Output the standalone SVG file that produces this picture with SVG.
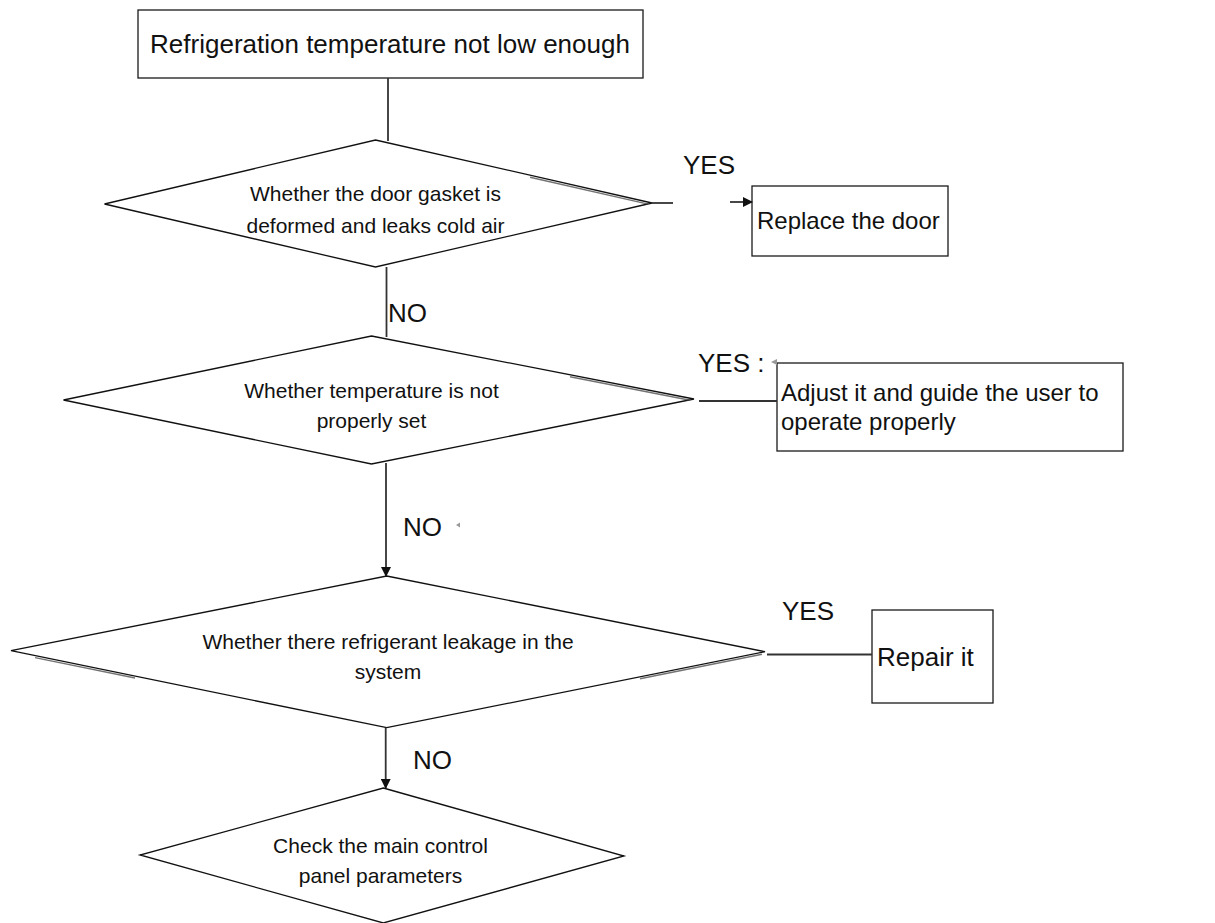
<svg xmlns="http://www.w3.org/2000/svg" width="1215" height="923" viewBox="0 0 1215 923">
  <style>
    .box { fill: #ffffff; stroke: #1a1a1a; stroke-width: 1.3; }
    .dia { fill: #ffffff; stroke: #111111; stroke-width: 1.3; stroke-linejoin: miter; }
    .shade { fill: none; stroke: #444444; stroke-width: 1.4; opacity: 0.75; }
    .conn { fill: none; stroke: #333333; stroke-width: 1.8; }
    .lbl { font-family: "Liberation Sans", Arial, sans-serif; font-size: 26px; fill: #111111; }
    .btxt { font-family: "Liberation Sans", Arial, sans-serif; font-size: 24px; fill: #111111; }
    .dtxt { font-family: "Liberation Sans", Arial, sans-serif; font-size: 21px; fill: #111111; text-anchor: middle; }
    .mark { fill: #999999; }
  </style>
  <defs>
    <marker id="arrow" viewBox="0 0 10 10" refX="9" refY="5" markerWidth="10" markerHeight="10" markerUnits="userSpaceOnUse" orient="auto">
      <path d="M0,0 L10,5 L0,10 Z" fill="#111111"/>
    </marker>
  </defs>

  <!-- start box -->
  <g id="start">
    <rect class="box" x="138" y="10" width="505" height="68"/>
    <text class="lbl" x="390" y="53" text-anchor="middle">Refrigeration temperature not low enough</text>
  </g>

  <!-- decision: door gasket -->
  <g id="check-gasket">
    <polygon class="dia" points="375.5,140 652,203 375.5,267 104.5,204"/>
    <line class="shade" x1="530" y1="177.2" x2="648" y2="204.1"/>
    <text class="dtxt" x="375.5" y="201">Whether the door gasket is</text>
    <text class="dtxt" x="375.5" y="233">deformed and leaks cold air</text>
  </g>

  <g id="replace-door">
    <rect class="box" x="752" y="186" width="196" height="70"/>
    <text class="btxt" x="757" y="229">Replace the door</text>
  </g>

  <!-- decision: temperature setting -->
  <g id="check-setting">
    <polygon class="dia" points="371.5,336 694,399 371.5,464 63.5,400"/>
    <line class="shade" x1="570" y1="376.7" x2="690" y2="400.2"/>
    <text class="dtxt" x="371.5" y="398">Whether temperature is not</text>
    <text class="dtxt" x="371.5" y="428">properly set</text>
  </g>

  <g id="adjust-setting">
    <rect class="box" x="777" y="363" width="346" height="88"/>
    <text class="btxt" x="781" y="401">Adjust it and guide the user to</text>
    <text class="btxt" x="781" y="430">operate properly</text>
  </g>

  <!-- decision: refrigerant leakage -->
  <g id="check-leak">
    <polygon class="dia" points="386.7,576 765,651.7 386.7,727.7 11,650.7"/>
    <line class="shade" x1="35" y1="657.6" x2="135" y2="678"/>
    <line class="shade" x1="640" y1="678.8" x2="762" y2="654.3"/>
    <text class="dtxt" x="388" y="649">Whether there refrigerant leakage in the</text>
    <text class="dtxt" x="388" y="679">system</text>
  </g>

  <g id="repair">
    <rect class="box" x="872" y="610" width="121" height="93"/>
    <text class="lbl" x="877" y="666">Repair it</text>
  </g>

  <!-- final decision: control panel -->
  <g id="check-panel">
    <polygon class="dia" points="383.3,788 624,856 383.3,923 140,855"/>
    <text class="dtxt" x="380.5" y="853">Check the main control</text>
    <text class="dtxt" x="380.5" y="883">panel parameters</text>
  </g>

  <!-- connectors and branch labels -->
  <g id="connectors">
    <line class="conn" x1="388" y1="78" x2="388" y2="141"/>

    <line class="conn" x1="652" y1="203" x2="673" y2="203"/>
    <line class="conn" x1="730" y1="202" x2="752" y2="202" marker-end="url(#arrow)"/>
    <text class="lbl" x="683" y="174">YES</text>

    <line class="conn" x1="386.5" y1="267" x2="386.5" y2="337"/>
    <text class="lbl" x="388" y="322">NO</text>

    <line class="conn" x1="699" y1="401" x2="777" y2="401"/>
    <text class="lbl" x="698" y="372">YES :</text>
    <path class="mark" d="M771,362 L777,359 L777,365 Z"/>

    <line class="conn" x1="386" y1="463" x2="386" y2="576" marker-end="url(#arrow)"/>
    <text class="lbl" x="403" y="536">NO</text>
    <path class="mark" d="M456,525 L460,522.5 L460,527.5 Z"/>

    <line class="conn" x1="767" y1="654.5" x2="872" y2="654.5"/>
    <text class="lbl" x="782" y="620">YES</text>

    <line class="conn" x1="385.7" y1="727.7" x2="385.7" y2="788" marker-end="url(#arrow)"/>
    <text class="lbl" x="413" y="769">NO</text>
  </g>
</svg>
